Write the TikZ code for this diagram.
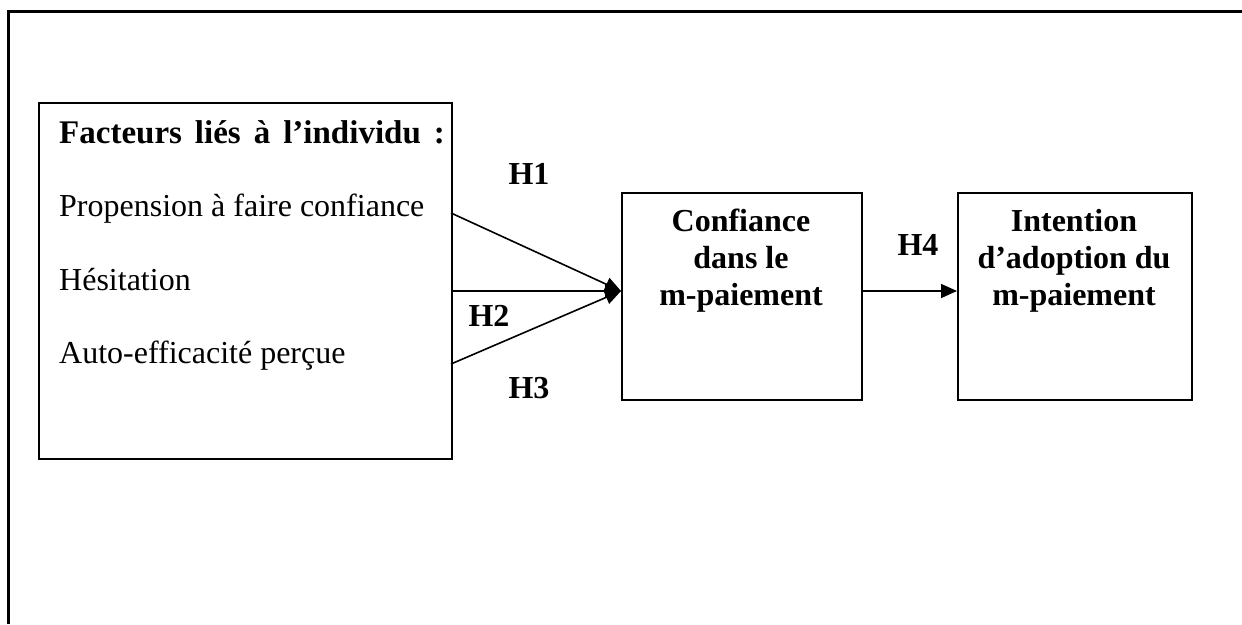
\documentclass[tikz,border=0pt]{standalone}
\usepackage{fontspec}
\setmainfont{Liberation Serif}
\usetikzlibrary{arrows.meta}
\begin{document}
\begin{tikzpicture}[x=1pt,y=-1pt,
  box/.style={draw, line width=2pt, anchor=north west, inner sep=0pt},
  txt/.style={inner sep=0pt, anchor=base west, font=\fontsize{32}{37}\selectfont},
  btxt/.style={inner sep=0pt, anchor=north, align=center, font=\fontsize{32}{37}\selectfont\bfseries},
  lbl/.style={inner sep=0pt, anchor=base, font=\fontsize{32}{37}\selectfont\bfseries},
  link/.style={line width=1.6pt, -{Triangle[length=16pt,width=14pt]}}]
\useasboundingbox (0,0) rectangle (1242,624);
% outer frame (cut at right and bottom)
\draw[line width=3pt] (8,624) -- (8,11) -- (1242,11);
% boxes
\node[box, minimum width=413pt, minimum height=356pt] (left) at (38,102) {};
\node[box, minimum width=240pt, minimum height=207pt] (mid) at (621,192) {};
\node[box, minimum width=234pt, minimum height=207pt] (right) at (957,192) {};
% left box texts
\node[txt, font=\fontsize{33}{37}\selectfont\bfseries] (head) at (59,143) {\spaceskip=13pt\relax Facteurs liés à l’individu :};
\node[txt] (t1) at (59,216) {Propension à faire confiance};
\node[txt] (t2) at (59,290) {Hésitation};
\node[txt] (t3) at (59,363) {Auto-efficacité perçue};
% box texts
\node[btxt] (midtxt) at (741,209) {Confiance\\dans le\\m-paiement};
\node[btxt] (righttxt) at (1074,209) {Intention\\d’adoption du\\m-paiement};
% connectors
\coordinate (s1) at (451,213);
\coordinate (s2) at (451,291);
\coordinate (s3) at (451,364);
\draw[link] (s1) -- (mid.west |- s2);
\draw[link] (s2) -- (mid.west |- s2);
\draw[link] (s3) -- (mid.west |- s2);
\draw[link] (mid.east |- s2) -- (right.west |- s2);
% labels
\node[lbl] (h1) at (529,184) {H1};
\node[lbl] (h2) at (489,326) {H2};
\node[lbl] (h3) at (529,398) {H3};
\node[lbl] (h4) at (918,255) {H4};
\end{tikzpicture}
\end{document}
